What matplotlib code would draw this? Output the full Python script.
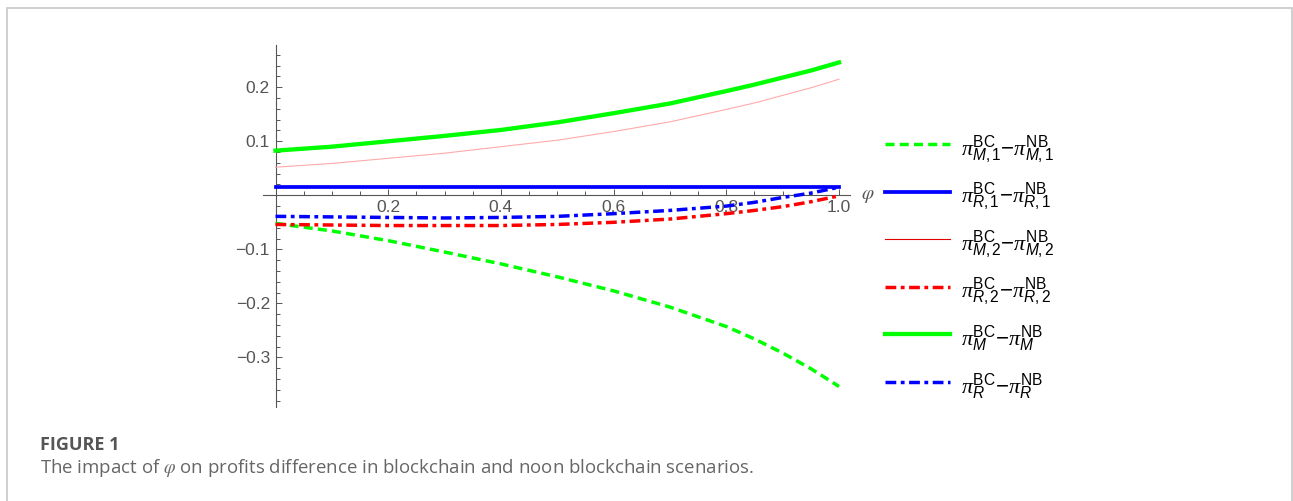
import numpy as np
import matplotlib
matplotlib.use('Agg')
import matplotlib.pyplot as plt
from matplotlib.lines import Line2D
from matplotlib.patches import Rectangle
from matplotlib.ticker import FixedLocator

########################################################## Data #############################################################

phi = [0.0, 0.1, 0.2, 0.3, 0.4, 0.5, 0.6, 0.7, 0.8, 0.85, 0.9, 0.95, 1.0]

pi_M1 = [-0.052, -0.066, -0.084, -0.105, -0.127, -0.151, -0.177, -0.207, -0.243, -0.266, -0.292, -0.321, -0.354]
pi_R1 = [0.016, 0.016, 0.016, 0.016, 0.016, 0.016, 0.016, 0.016, 0.016, 0.016, 0.016, 0.016, 0.016]
pi_M2 = [0.052, 0.059, 0.0685, 0.078, 0.090, 0.102, 0.118, 0.136, 0.159, 0.171, 0.185, 0.199, 0.215]
pi_R2 = [-0.054, -0.055, -0.056, -0.056, -0.056, -0.054, -0.050, -0.044, -0.034, -0.028, -0.021, -0.012, -0.001]
pi_M = [0.0827, 0.090, 0.100, 0.110, 0.121, 0.135, 0.152, 0.170, 0.193, 0.205, 0.218, 0.231, 0.246]
pi_R = [-0.039, -0.040, -0.041, -0.042, -0.041, -0.039, -0.034, -0.028, -0.020, -0.013, -0.004, 0.004, 0.015]

series = [pi_M1, pi_R1, pi_M2, pi_R2, pi_M, pi_R]
labels = [r'$\pi^{\mathrm{BC}}_{\mathsf{M},1}{-}\pi^{\mathrm{NB}}_{\mathsf{M},1}$',
          r'$\pi^{\mathrm{BC}}_{\mathsf{R},1}{-}\pi^{\mathrm{NB}}_{\mathsf{R},1}$',
          r'$\pi^{\mathrm{BC}}_{\mathsf{M},2}{-}\pi^{\mathrm{NB}}_{\mathsf{M},2}$',
          r'$\pi^{\mathrm{BC}}_{\mathsf{R},2}{-}\pi^{\mathrm{NB}}_{\mathsf{R},2}$',
          r'$\pi^{\mathrm{BC}}_{\mathsf{M}}{-}\pi^{\mathrm{NB}}_{\mathsf{M}}$',
          r'$\pi^{\mathrm{BC}}_{\mathsf{R}}{-}\pi^{\mathrm{NB}}_{\mathsf{R}}$']

x_major = [0.2, 0.4, 0.6, 0.8, 1.0]
y_major = [-0.3, -0.2, -0.1, 0.1, 0.2]

########################################################## Styles #############################################################

dash_dot = (0, (3.1, 1.3, 1.1, 1.3))
styles = [dict(color = '#00ff00', lw = 2.5, ls = (0, (2.6, 1.5))),
          dict(color = '#0000ff', lw = 2.7, ls = '-'),
          dict(color = '#ffaaaa', lw = 0.8, ls = '-'),
          dict(color = '#ff0000', lw = 2.5, ls = dash_dot),
          dict(color = '#00ff00', lw = 3.1, ls = '-'),
          dict(color = '#0000ff', lw = 2.5, ls = dash_dot)]
# legend swatch for the thin line is drawn darker than the curve itself
legend_styles = [dict(s) for s in styles]
legend_styles[2]['color'] = '#e00000'

axis_grey = '#555555'

plt.rcParams['mathtext.fontset'] = 'custom'
plt.rcParams['mathtext.rm'] = 'Liberation Sans'
plt.rcParams['mathtext.sf'] = 'Liberation Sans:italic'
plt.rcParams['mathtext.it'] = 'Liberation Serif:italic'

W, H = 1293, 501
fig = plt.figure(figsize = (W / 100, H / 100), dpi = 100)

def px(x, y):
    return x / W, 1 - y / H

ax = fig.add_axes([263 / W, 1 - 407 / H, (850 - 263) / W, (407 - 45) / H])
ax.set_xlim(-0.0222, 1.0195)
ax.set_ylim(-0.392, 0.2783)
ax.set_axisbelow(True)

for spine in ['top', 'right']:
    ax.spines[spine].set_visible(False)
for spine in ['left', 'bottom']:
    ax.spines[spine].set_position(('data', 0))
    ax.spines[spine].set_color(axis_grey)
    ax.spines[spine].set_linewidth(0.8)

ax.xaxis.set_major_locator(FixedLocator(x_major))
ax.xaxis.set_minor_locator(FixedLocator([k * 0.05 for k in range(1, 20) if k % 4 != 0]))
ax.yaxis.set_major_locator(FixedLocator(y_major))
ax.yaxis.set_minor_locator(FixedLocator([round(k * 0.02, 2) for k in range(-19, 14) if k % 5 != 0]))
ax.set_xticklabels(['0.2', '0.4', '0.6', '0.8', '1.0'])
ax.set_yticklabels(['\u22120.3', '\u22120.2', '\u22120.1', '0.1', '0.2'])

ax.tick_params(which = 'both', direction = 'in', color = axis_grey, width = 0.7)
ax.tick_params(which = 'major', length = 4.5, labelsize = 12.5, labelcolor = axis_grey)
ax.tick_params(which = 'minor', length = 3)
ax.tick_params(axis = 'x', which = 'major', pad = 3.2)
ax.tick_params(axis = 'y', which = 'major', pad = 4)
for lab in ax.get_xticklabels() + ax.get_yticklabels():
    lab.set_fontfamily('Liberation Sans')

for ys, st in zip(series, styles):
    ax.plot(phi, ys, color = st['color'], lw = st['lw'], linestyle = st['ls'], zorder = 3, clip_on = False)

fig.text(*px(868, 195), r'$\varphi$', math_fontfamily = 'stix', fontsize = 14, color = axis_grey, ha = 'center', va = 'center')

# legend rows built by hand
row_y = [144, 191.6, 239.2, 286.8, 334.4, 382]
for yy, lab, st in zip(row_y, labels, legend_styles):
    x0, y0 = px(885, yy)
    x1, _ = px(950, yy)
    fig.add_artist(Line2D([x0, x1], [y0, y0], color = st['color'], lw = st['lw'], linestyle = st['ls']))
    fig.text(*px(961, yy + 11), lab, fontsize = 16, color = 'black', ha = 'left', va = 'baseline')

# caption and frame
fig.text(*px(40, 450), 'FIGURE 1', fontfamily = 'Open Sans', fontweight = 'bold', fontsize = 13, color = '#555555', ha = 'left', va = 'baseline')
fig.text(*px(40, 473), r'The impact of $\varphi$ on profits difference in blockchain and noon blockchain scenarios.',
         fontfamily = 'Open Sans', math_fontfamily = 'stix', fontsize = 13.4, color = '#666666', ha = 'left', va = 'baseline')

fig.add_artist(Rectangle(px(7, 520), (1292 - 7) / W, (520 - 8) / H, transform = fig.transFigure,
                         fill = False, edgecolor = '#cccccc', lw = 1.3, clip_on = False))

fig.savefig('out.png', dpi = 100)
